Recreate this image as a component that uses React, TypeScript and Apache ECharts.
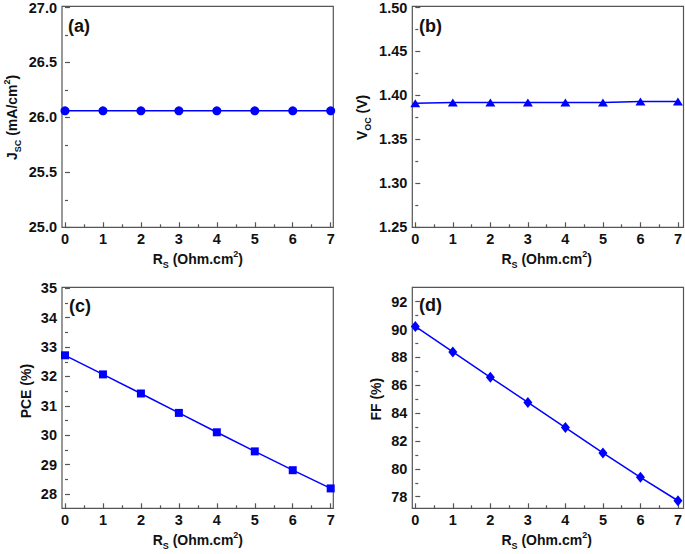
import React, { useEffect, useRef } from "react";
import * as echarts from "echarts";

const rsValues = [0, 1, 2, 3, 4, 5, 6, 7];
const jscValues = [26.06, 26.06, 26.06, 26.06, 26.06, 26.06, 26.06, 26.06];
const vocValues = [1.391, 1.392, 1.392, 1.392, 1.392, 1.392, 1.393, 1.393];
const pceValues = [32.72, 32.07, 31.42, 30.76, 30.1, 29.45, 28.81, 28.19];
const ffValues = [90.22, 88.39, 86.57, 84.77, 82.96, 81.14, 79.39, 77.71];

const panelLabels = ["(a)", "(b)", "(c)", "(d)"];
const xAxisTitle = "{n|R}{sub|S}{n| (Ohm.cm}{sup|2}{n|)}";
const yAxisTitles = [
  "{n|J}{sub|SC}{n| (mA/cm}{sup|2}{n|)}",
  "{n|V}{sub|OC}{n| (V)}",
  "{n|PCE (%)}",
  "{n|FF (%)}",
];
const yMins = [25, 1.25, 28, 78];
const yMaxs = [27, 1.5, 35, 92];
const yIntervals = [0.5, 0.05, 1, 2];
const yDecimals = [1, 2, 0, 0];
const symbols = ["circle", "triangle", "rect", "diamond"];
const symbolSizes: any[] = [9, [10, 8], 8, [9, 11]];

const FONT = 'Arial, "Liberation Sans", sans-serif';
const AXIS_COLOR = "#555";
const BLUE = "#0000ff";

const richStyles = {
  n: { fontSize: 14, fontWeight: "bold", lineHeight: 20, verticalAlign: "middle", fontFamily: FONT, color: "#111" },
  sub: { fontSize: 9, fontWeight: "bold", lineHeight: 10, verticalAlign: "bottom", fontFamily: FONT, color: "#111" },
  sup: { fontSize: 9, fontWeight: "bold", lineHeight: 10, verticalAlign: "top", fontFamily: FONT, color: "#111" },
};

// layout (pixels)
const grids = [
  { left: 65, top: 6.3, width: 265.7, height: 221 },
  { left: 415.3, top: 6.3, width: 265.7, height: 221 },
  { left: 65, top: 288.3, width: 265.7, height: 205.7 },
  { left: 415.3, top: 301.7, width: 265.7, height: 195 },
];
const frames = [
  { x: 62, y: 6.3, width: 271.3, height: 221 },
  { x: 412.3, y: 6.3, width: 271.2, height: 221 },
  { x: 62, y: 287.3, width: 271.3, height: 221 },
  { x: 412.3, y: 287.3, width: 271.2, height: 221 },
];
const yNameGaps = [40, 40, 26, 26.5];
const labelPos = [
  { x: 68, y: 25.5 },
  { x: 419, y: 25.5 },
  { x: 69, y: 306 },
  { x: 419, y: 304.5 },
];

export default function App() {
  const ref = useRef<HTMLDivElement>(null);
  useEffect(() => {
    if (!ref.current) return;
    const chart = echarts.init(ref.current, null, { renderer: "svg" });
    const seriesValues = [jscValues, vocValues, pceValues, ffValues];
    const tickLine = { show: true, inside: true, length: 5, lineStyle: { color: AXIS_COLOR, width: 1.2 } };
    const minorTick = { show: true, splitNumber: 2, length: 3, lineStyle: { color: AXIS_COLOR, width: 1.2 } };
    const option: any = {
      animation: false,
      backgroundColor: "#fff",
      grid: grids.map((g) => ({ ...g, containLabel: false, show: false })),
      xAxis: grids.map((g, i) => {
        const frame = frames[i];
        const offset = frame.y + frame.height - (g.top + g.height);
        return {
          type: "value",
          gridIndex: i,
          min: 0,
          max: 7,
          interval: 1,
          offset,
          axisLine: { show: false },
          axisTick: tickLine,
          minorTick,
          splitLine: { show: false },
          axisLabel: {
            margin: 4,
            fontSize: 14.5,
            fontWeight: "bold",
            fontFamily: FONT,
            color: "#111",
            formatter: (v: number) => String(Math.round(v)),
          },
          name: xAxisTitle,
          nameLocation: "middle",
          nameGap: 22,
          nameTextStyle: { rich: richStyles },
        };
      }),
      yAxis: grids.map((g, i) => {
        const frame = frames[i];
        const offset = g.left - frame.x;
        return {
          type: "value",
          gridIndex: i,
          min: yMins[i],
          max: yMaxs[i],
          interval: yIntervals[i],
          offset,
          axisLine: { show: false },
          axisTick: tickLine,
          minorTick,
          splitLine: { show: false },
          axisLabel: {
            margin: 5,
            fontSize: 14.5,
            fontWeight: "bold",
            fontFamily: FONT,
            color: "#111",
            formatter: (v: number) => v.toFixed(yDecimals[i]),
          },
          name: yAxisTitles[i],
          nameLocation: "middle",
          nameGap: yNameGaps[i],
          nameRotate: 90,
          nameTextStyle: { rich: richStyles },
        };
      }),
      series: seriesValues.map((vals, i) => ({
        type: "line",
        xAxisIndex: i,
        yAxisIndex: i,
        data: rsValues.map((x, k) => [x, vals[k]]),
        symbol: symbols[i],
        symbolSize: symbolSizes[i],
        showSymbol: true,
        clip: false,
        lineStyle: { color: BLUE, width: 1.5 },
        itemStyle: { color: BLUE },
        z: 5,
      })),
      graphic: [
        ...frames.map((f) => ({
          type: "rect",
          shape: { x: f.x, y: f.y, width: f.width, height: f.height },
          style: { fill: "none", stroke: AXIS_COLOR, lineWidth: 1.2 },
          z: 1,
          silent: true,
        })),
        ...panelLabels.map((t, i) => ({
          type: "text",
          x: labelPos[i].x,
          y: labelPos[i].y,
          style: {
            text: t,
            fontSize: 18,
            fontWeight: "bold",
            fontFamily: FONT,
            fill: "#111",
            verticalAlign: "middle",
            align: "left",
          },
          z: 10,
        })),
      ],
    };
    chart.setOption(option);
    return () => chart.dispose();
  }, []);
  return (
    <div
      ref={ref}
      style={{ position: "absolute", left: 0, top: 0, width: 685, height: 554, background: "#fff" }}
    />
  );
}
